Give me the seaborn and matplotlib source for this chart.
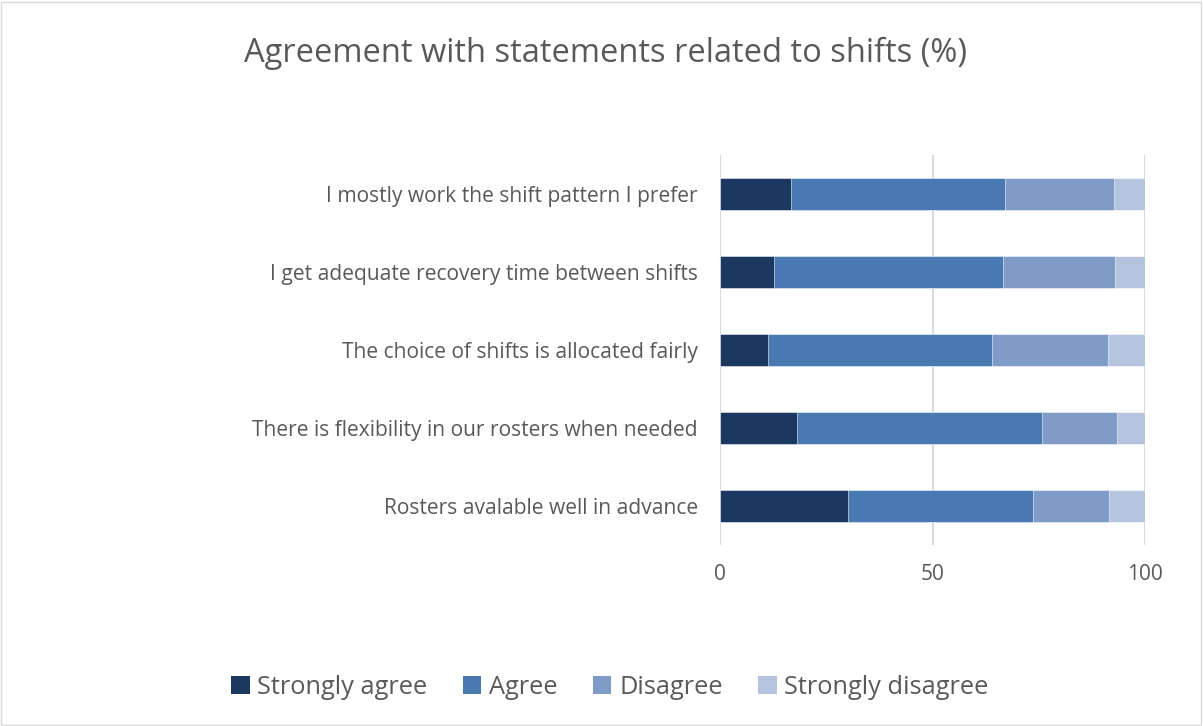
import matplotlib
matplotlib.use("Agg")
import matplotlib.pyplot as plt
from matplotlib.patches import Rectangle, Patch
import seaborn as sns
import pandas as pd
import numpy as np

statements = [
    "I mostly work the shift pattern I prefer",
    "I get adequate recovery time between shifts",
    "The choice of shifts is allocated fairly",
    "There is flexibility in our rosters when needed",
    "Rosters avalable well in advance",
]
strongly_agree = [16.6, 12.6, 11.4, 18.1, 30.2]
agree = [50.5, 54.1, 52.7, 57.6, 43.5]
disagree = [25.6, 26.3, 27.2, 17.8, 17.9]
strongly_disagree = [7.3, 7.0, 8.7, 6.5, 8.4]

series_names = ["Strongly agree", "Agree", "Disagree", "Strongly disagree"]
colors = ["#1b3860", "#4a78b0", "#7f9bc7", "#b4c3de"]
x_ticks = [0, 50, 100]

sns.set_theme(style="white")
plt.rcParams["font.family"] = ["Open Sans", "DejaVu Sans"]
text_color = "#595959"

df = pd.DataFrame({
    "statement": statements,
    "Strongly agree": strongly_agree,
    "Agree": agree,
    "Disagree": disagree,
    "Strongly disagree": strongly_disagree,
})
# cumulative totals for stacking: draw the longest first, shorter on top
cum = df[series_names].cumsum(axis=1)
cum["statement"] = df["statement"]

fig = plt.figure(figsize=(12.03, 7.26), dpi=100)
ax = fig.add_axes([0.5985, 0.2493, 0.3533, 0.5372])

for name, col in reversed(list(zip(series_names, colors))):
    sns.barplot(data=cum, x=name, y="statement", order=statements,
                color=col, width=0.4, ax=ax, saturation=1,
                edgecolor="white", linewidth=0.4, zorder=3)

ax.set_xlim(0, 100)
ax.set_ylim(4.5, -0.5)
ax.set_xticks(x_ticks)
ax.set_xticklabels([str(t) for t in x_ticks])
ax.set_xlabel("")
ax.set_ylabel("")
for s in ax.spines.values():
    s.set_visible(False)
ax.grid(axis="x", color="#d9d9d9", linewidth=1.4, zorder=0)
ax.grid(axis="y", visible=False)
ax.set_axisbelow(True)
ax.tick_params(axis="x", length=0, pad=14, labelsize=15, labelcolor=text_color)
ax.tick_params(axis="y", length=0, pad=16, labelsize=15.1, labelcolor=text_color)

fig.text(0.503, 0.927, "Agreement with statements related to shifts (%)",
         ha="center", va="center", fontsize=23.5, color=text_color)

handles = [Patch(facecolor=c, edgecolor="none") for c in colors]
fig.legend(handles, series_names, loc="center", bbox_to_anchor=(0.507, 0.053),
           ncol=4, frameon=False, fontsize=18.3, labelcolor=text_color,
           handlelength=0.72, handleheight=0.72, handletextpad=0.3,
           columnspacing=1.4)

fig.patches.append(Rectangle((0.001, 0.002), 0.997, 0.995, transform=fig.transFigure,
                             fill=False, edgecolor="#d9d9d9", linewidth=1.0))

fig.savefig("out.png", dpi=100)
